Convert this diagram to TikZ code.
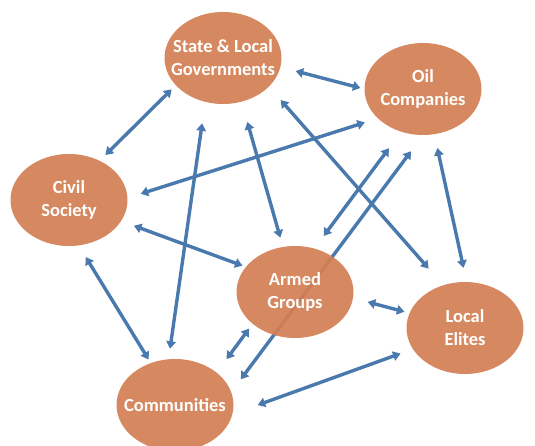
\documentclass[tikz,border=0pt]{standalone}
\usepackage{fontspec}
\setmainfont{Carlito}
\usepackage{tikz}
\usetikzlibrary{arrows.meta}
\usetikzlibrary{backgrounds}
\usetikzlibrary{shapes.geometric}
\definecolor{grporange}{HTML}{D37F52}
\definecolor{lnkblue}{HTML}{4A79AE}
\tikzstyle{grp}=[ellipse, fill=grporange, fill opacity=.92, minimum width=117pt, minimum height=92pt, inner sep=0pt]
\tikzstyle{lbl}=[text=white, opacity=1, text opacity=1, font=\fontsize{18.5}{23}\selectfont\bfseries, align=center, inner sep=0pt]
\tikzstyle{lnk}=[<->, >={Triangle[length=7.5pt,width=9.5pt]}, line width=3.4pt, color=lnkblue]
\def\cSd{State \& Local\\Governments}
\def\cOd{Oil\\Companies}
\def\cCd{Civil\\Society}
\def\cAd{Armed\\Groups}
\def\cLd{Local\\Elites}
\def\cMd{Communities}

\begin{document}
\begin{tikzpicture}[x=1pt, y=-1pt]
    %\draw [help lines] (0,0) grid (535,446);
    \useasboundingbox (0,0) rectangle (535,446);

    \node [grp, label={[lbl]center:{\cSd}}] (S) at (223,58)  {};
    \node [grp, label={[lbl]center:{\cOd}}] (O) at (423,89)  {};
    \node [grp, label={[lbl]center:{\cCd}}] (C) at (69,200)  {};
    \node [grp, label={[lbl]center:{\cAd}}] (A) at (295,292) {};
    \node [grp, label={[lbl]center:{\cLd}}] (L) at (465,328) {};
    \node [grp, label={[lbl]center:{\cMd}}] (M) at (175,405) {};

    \begin{pgfonlayer}{background}
    \path [lnk] (S.-9.1)   edge [shorten <=15.6pt, shorten >=4pt]    (O.180)
                (S.-150.1) edge [shorten <=5.7pt,  shorten >=8pt]    (C.52.5)
                (C.2.9)    edge [shorten <=13.7pt, shorten >=13.5pt] (O.-147.3)
                (S.-112.4) edge [shorten <=21.5pt, shorten >=10.4pt] (M.98.1)
                (S.-67.4)  edge [shorten <=21pt,   shorten >=9.5pt]  (A.105.4)
                (S.-32.4)  edge [shorten <=17.7pt, shorten >=22pt]   (L.117.9)
                (O.-117)   edge [shorten <=20.4pt, shorten >=15.5pt] (A.66.8)
                (O.-90)    edge [shorten <=20pt,   shorten >=15.8pt] (M.13.6)
                (O.-76.3)  edge [shorten <=14pt,   shorten >=14.3pt] (L.88.8);
    \path [lnk] (C.-22.6)  edge [shorten <=13.5pt, shorten >=3.4pt]  (A.153.1)
                (C.-78.8)  edge [shorten <=13.5pt, shorten >=4pt]    (M.120.9)
                (A.-143.6) edge [shorten <=5.8pt,  shorten >=16.6pt] (M.38.5)
                (A.-6.2)   edge [shorten <=15pt,   shorten >=5.2pt]  (L.165)
                (M.-9.1)   edge [shorten <=26.7pt, shorten >=13pt]   (L.-158.3);
    \end{pgfonlayer}

\end{tikzpicture}
\end{document}
